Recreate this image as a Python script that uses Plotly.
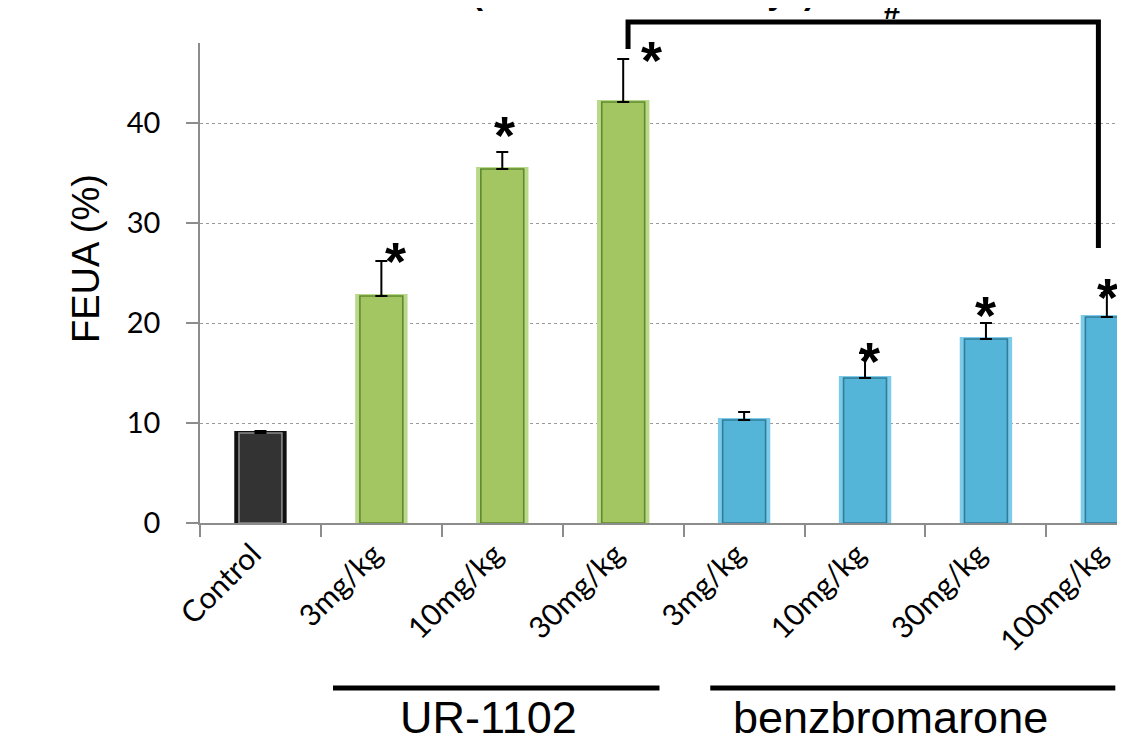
import plotly.graph_objects as go

# ---- data ----
categories = ["Control", "3mg/kg", "10mg/kg", "30mg/kg", "3mg/kg", "10mg/kg", "30mg/kg", "100mg/kg"]
feua_mean = [9.0, 22.7, 35.4, 42.1, 10.3, 14.5, 18.4, 20.6]
feua_err = [0.2, 3.5, 1.7, 4.3, 0.8, 2.5, 1.6, 2.4]
significant = [False, True, True, True, False, True, True, True]
groups = ["control", "ur", "ur", "ur", "bz", "bz", "bz", "bz"]
group_labels = ["UR-1102", "benzbromarone"]
y_ticks = [0, 10, 20, 30, 40]

# ---- styling ----
fill = {"control": "#333333", "ur": "#a3c662", "bz": "#55b5d8"}
glow = {"control": "#111111", "ur": "#b9d889", "bz": "#7ccbe8"}
edge = {"control": "#8a8a8a", "ur": "#5f8a2e", "bz": "#2f7c9b"}

xpos = list(range(len(categories)))
n = len(categories)

fig = go.Figure()
fig.add_trace(go.Bar(
    x=xpos, y=feua_mean, width=0.40,
    marker=dict(color=[glow[g] for g in groups],
                line=dict(color=[glow[g] for g in groups], width=4)),
    hoverinfo="skip", showlegend=False,
))
fig.add_trace(go.Bar(
    x=xpos, y=feua_mean, width=0.355,
    marker=dict(color=[fill[g] for g in groups],
                line=dict(color=[edge[g] for g in groups], width=1.6)),
    error_y=dict(type="data", array=feua_err, arrayminus=[0] * n, symmetric=False,
                 color="black", thickness=2, width=6),
    showlegend=False,
))

# significance stars (pixel offsets relative to error-bar tops)
star_dx = [0, 14, 2, 28, 0, 4, 0, 1]
star_dy = [0, 8, 25, 7, 0, 0, 16, 4]
annotations = []
for i in range(n):
    if significant[i]:
        annotations.append(dict(
            x=xpos[i], y=feua_mean[i] + feua_err[i], xref="x", yref="y",
            text="<b>*</b>", showarrow=False, xanchor="center", yanchor="middle",
            xshift=star_dx[i], yshift=star_dy[i] - 8,
            font=dict(family="Liberation Sans", size=54, color="black"),
        ))

# y-axis title
annotations.append(dict(
    x=-0.1232, y=0.55, xref="paper", yref="paper", text="FEUA (%)",
    textangle=-90, showarrow=False, xanchor="center", yanchor="middle",
    font=dict(family="Liberation Sans", size=38, color="black"),
))
# group labels
for lbl, gx in zip(group_labels, [1.89, 5.21]):
    annotations.append(dict(
        x=gx, y=-0.405, xref="x", yref="paper", text=lbl, showarrow=False,
        xanchor="center", yanchor="middle",
        font=dict(family="Liberation Sans", size=45, color="black"),
    ))
# cut-off title and '#'
annotations.append(dict(
    x=(470 - 200) / 925, y=1.063, xref="paper", yref="paper",
    text="<b>(Rat oral dose 7 days)</b>", showarrow=False,
    xanchor="left", yanchor="bottom",
    font=dict(family="Liberation Sans", size=33, color="black"),
))
annotations.append(dict(
    x=5.23, y=1.034, xref="x", yref="paper", text="<b>#</b>", showarrow=False,
    xanchor="center", yanchor="bottom",
    font=dict(family="Liberation Sans", size=30, color="black"),
))

shapes = [
    # significance bracket
    dict(type="path", xref="x", yref="paper",
         path="M 3.04,0.9875 L 3.04,1.044 L 6.93,1.044 L 6.93,0.573",
         line=dict(color="black", width=5)),
    # group underlines
    dict(type="line", xref="x", yref="paper", x0=0.6, x1=3.30, y0=-0.344, y1=-0.344,
         line=dict(color="black", width=5)),
    dict(type="line", xref="x", yref="paper", x0=3.72, x1=7.07, y0=-0.344, y1=-0.344,
         line=dict(color="black", width=5)),
]

fig.update_layout(
    width=1125, height=741,
    margin=dict(l=192, r=8, t=35, b=226, autoexpand=False),
    paper_bgcolor="white", plot_bgcolor="white",
    barmode="overlay",
    annotations=annotations, shapes=shapes,
    font=dict(family="Lato", color="black"),
)
fig.update_xaxes(
    range=[-0.5, 7.15], tickmode="array", tickvals=xpos, ticktext=categories,
    tickangle=-45, ticks="", showgrid=False, zeroline=False, automargin=False,
    showline=True, linecolor="#8c8c8c", linewidth=1.5, ticklabelshift=-8,
    tickfont=dict(family="Lato", size=30, color="black"),
    minor=dict(ticks="outside", ticklen=12, tickwidth=1.5, tickcolor="#8c8c8c",
               tick0=-0.5, dtick=1, showgrid=False),
)
fig.update_yaxes(
    range=[0, 48], tickmode="array", tickvals=y_ticks, automargin=False,
    ticks="outside", ticklen=12, tickwidth=1.5, tickcolor="#8c8c8c",
    showline=True, linecolor="#8c8c8c", linewidth=1.5,
    showgrid=True, gridcolor="#9a9a9a", griddash="dot", gridwidth=1,
    zeroline=False, ticklabelstandoff=20,
    tickfont=dict(family="Lato", size=29, color="black"),
)

fig.write_html("out.html")
